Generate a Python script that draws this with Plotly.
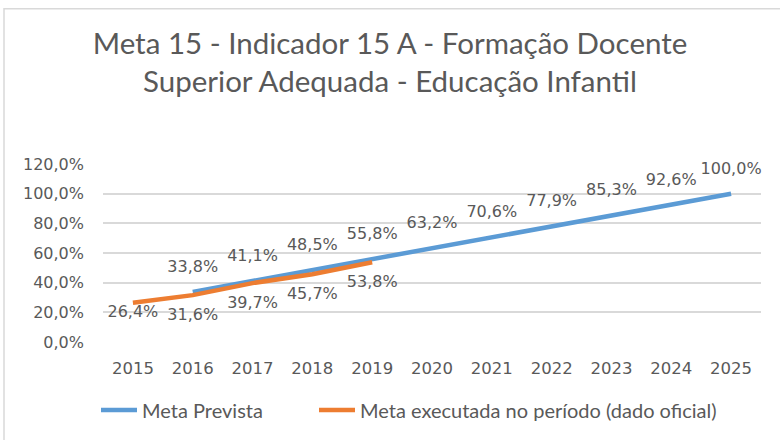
import plotly.graph_objects as go

years = ["2015", "2016", "2017", "2018", "2019", "2020", "2021", "2022", "2023", "2024", "2025"]
prevista = [None, 33.8, 41.1, 48.5, 55.8, 63.2, 70.6, 77.9, 85.3, 92.6, 100.0]
executada = [26.4, 31.6, 39.7, 45.7, 53.8, None, None, None, None, None, None]
y_ticks = [0, 20, 40, 60, 80, 100, 120]

def lab(v):
    return "" if v is None else f"{v:.1f}%".replace(".", ",")

L, R, T, B = 103, 19, 164, 97
W, H = 780, 440
pw, ph = W - L - R, H - T - B

def px_x(p):
    return (p - L) / pw

def px_y(p):
    return (H - B - p) / ph

fig = go.Figure()
fig.add_trace(go.Scatter(
    x=years, y=prevista, mode="lines+markers+text", name="Meta Prevista",
    line=dict(color="#5B9BD5", width=4.5),
    marker=dict(size=24, color="rgba(0,0,0,0)", line=dict(width=0)),
    text=[lab(v) for v in prevista], textposition="top center",
    textfont=dict(family="DejaVu Sans", size=16, color="#595959"),
    connectgaps=False, cliponaxis=False, legend="legend", showlegend=True,
))
fig.add_trace(go.Scatter(
    x=years, y=executada, mode="lines+markers+text", name="Meta executada no período (dado oficial)",
    line=dict(color="#ED7D31", width=4.5),
    marker=dict(size=[2] + [19] * 10, color="rgba(0,0,0,0)", line=dict(width=0)),
    text=[lab(v) for v in executada], textposition="bottom center",
    textfont=dict(family="DejaVu Sans", size=16, color="#595959"),
    cliponaxis=False, legend="legend2", showlegend=True,
))

leg_common = dict(
    orientation="h", xanchor="left", y=px_y(410), yanchor="middle",
    font=dict(family="Lato", size=20, color="#595959"),
    bgcolor="rgba(0,0,0,0)", visible=True, itemwidth=36,
)
fig.update_layout(
    width=W, height=H,
    showlegend=True,
    margin=dict(l=L, r=R, t=T, b=B),
    paper_bgcolor="white", plot_bgcolor="white",
    separators=",.",
    title=dict(
        text="Meta 15 - Indicador 15 A - Formação Docente<br>Superior Adequada - Educação Infantil",
        x=0.5, xref="container", xanchor="center",
        y=1 - 54 / H, yref="container", yanchor="middle",
        font=dict(family="Lato", size=29.5, color="#595959"),
    ),
    legend=dict(x=px_x(96), **leg_common),
    legend2=dict(x=px_x(314), **leg_common),
    shapes=[dict(
        type="rect", xref="paper", yref="paper",
        x0=px_x(4), x1=px_x(900), y0=px_y(600), y1=px_y(8),
        line=dict(color="#d9d9d9", width=1.5), fillcolor="rgba(0,0,0,0)", layer="below",
    )],
)
fig.update_xaxes(
    type="category", categoryorder="array", categoryarray=years,
    range=[-0.5, 10.5], showgrid=False, showline=False, zeroline=False,
    tickfont=dict(family="DejaVu Sans", size=16.5, color="#595959"),
    ticks="", ticklabelstandoff=14,
)
fig.update_yaxes(
    range=[0, 120], tickmode="array", tickvals=y_ticks,
    ticktext=[f"{v:.1f}%".replace(".", ",") for v in y_ticks],
    showgrid=True, gridcolor="#d9d9d9", gridwidth=1.5, zeroline=False, showline=False,
    tickfont=dict(family="DejaVu Sans", size=16, color="#595959"),
    ticks="", ticklabelstandoff=18,
)
fig.write_html("out.html", config={"displayModeBar": False},
               post_script="document.body.style.margin='0';")
